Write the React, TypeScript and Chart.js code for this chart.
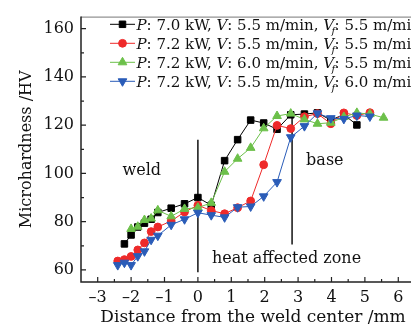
import React, { useEffect, useRef } from "react";
import { Chart, registerables } from "chart.js";
import { drawPoint } from "chart.js/helpers";

Chart.register(...registerables);

// ---- data ----
const blackX = [-2.2, -2.0, -1.8, -1.6, -1.4, -1.2, -0.8, -0.4, 0, 0.4, 0.8, 1.19, 1.58, 1.97, 2.37, 2.78, 3.19, 3.58, 3.98, 4.37, 4.76];
const blackY = [70.8, 74.5, 77.8, 79.4, 81.0, 83.8, 85.6, 87.4, 90.0, 86.8, 105.3, 114.0, 122.1, 120.9, 118.3, 124.3, 124.6, 125.1, 122.1, 124.4, 120.1];

const redX = [-2.4, -2.2, -2.0, -1.8, -1.6, -1.4, -1.2, -0.8, -0.4, 0, 0.4, 0.8, 1.19, 1.58, 1.97, 2.37, 2.78, 3.19, 3.58, 3.98, 4.37, 4.76, 5.15];
const redY = [63.7, 64.3, 65.6, 68.3, 71.2, 75.9, 77.8, 80.3, 84.0, 86.8, 84.6, 83.3, 85.8, 88.6, 103.6, 119.9, 118.6, 123.5, 124.8, 120.6, 125.1, 124.0, 125.2];

const greenX = [-2.0, -1.8, -1.6, -1.4, -1.2, -0.8, -0.4, 0, 0.4, 0.8, 1.19, 1.58, 1.97, 2.37, 2.78, 3.19, 3.58, 3.98, 4.37, 4.76, 5.15, 5.56];
const greenY = [77.0, 77.9, 80.7, 81.3, 84.7, 82.2, 85.3, 85.8, 87.8, 100.7, 106.1, 110.6, 118.7, 123.8, 124.8, 122.4, 120.6, 121.0, 123.4, 125.1, 124.6, 123.1];

const blueX = [-2.4, -2.2, -2.0, -1.8, -1.6, -1.4, -1.2, -0.8, -0.4, 0, 0.4, 0.8, 1.19, 1.58, 1.97, 2.37, 2.78, 3.19, 3.58, 3.98, 4.37, 4.76, 5.15];
const blueY = [62.0, 63.0, 62.0, 65.7, 67.7, 72.5, 74.2, 78.7, 81.0, 83.7, 82.7, 81.8, 86.0, 86.3, 90.5, 96.4, 115.0, 119.6, 124.9, 122.9, 122.6, 124.0, 123.6];

const legendP = ["7.0", "7.2", "7.2", "7.2"];
const legendV = ["5.5", "5.5", "6.0", "5.5"];
const legendVf = ["5.5", "5.5", "5.5", "6.0"];

const weldLineX = [0, 0];
const weldLineY = [114, 59];
const hazLineX = [2.82, 2.82];
const hazLineY = [124.5, 70.5];

const annotationText = ["weld", "base", "heat affected zone"];
const annotationX = [-2.255, 3.24, 0.42];
const annotationY = [99.4, 103.5, 62.7];

const xTicks = [-3, -2, -1, 0, 1, 2, 3, 4, 5, 6];
const yTicks = [60, 80, 100, 120, 140, 160];

const X_MIN = -3.5;
const X_MAX = 6.8;
const Y_MIN = 55;
const Y_MAX = 165;

// ---- styles ----
const FONT = '"DejaVu Serif", serif';
const COLORS = ["#000000", "#ee2a2a", "#6cc04a", "#2a5cb8"];
const STYLES = [
  { pointStyle: "rect", radius: 4.6, rotation: 0 },
  { pointStyle: "circle", radius: 3.9, rotation: 0 },
  { pointStyle: "triangle", radius: 5, rotation: 0 },
  { pointStyle: "triangle", radius: 5, rotation: 180 },
];

const toPts = (xs: number[], ys: number[]) => xs.map((x, i) => ({ x, y: ys[i] }));

const framePlugin = {
  id: "frameTicks",
  afterDraw(chart: any) {
    const { ctx, chartArea, scales } = chart;
    const { left, right, top, bottom } = chartArea;
    const xs = scales.x;
    const ys = scales.y;
    ctx.save();
    // top frame line
    ctx.strokeStyle = "#777";
    ctx.lineWidth = 1;
    ctx.beginPath();
    ctx.moveTo(left, top + 0.5);
    ctx.lineTo(right, top + 0.5);
    ctx.stroke();
    // axes
    ctx.strokeStyle = "#222";
    ctx.lineWidth = 1.5;
    ctx.beginPath();
    ctx.moveTo(left, top);
    ctx.lineTo(left, bottom);
    ctx.lineTo(right, bottom);
    ctx.stroke();
    // inward ticks
    ctx.lineWidth = 1.2;
    ctx.beginPath();
    xTicks.forEach((v) => {
      const p = xs.getPixelForValue(v);
      ctx.moveTo(p, bottom);
      ctx.lineTo(p, bottom - 5);
      const m = xs.getPixelForValue(v + 0.5);
      if (m < right) {
        ctx.moveTo(m, bottom);
        ctx.lineTo(m, bottom - 3);
      }
    });
    yTicks.forEach((v) => {
      const p = ys.getPixelForValue(v);
      ctx.moveTo(left, p);
      ctx.lineTo(left + 5, p);
      const m = ys.getPixelForValue(v + 10);
      if (m > top) {
        ctx.moveTo(left, m);
        ctx.lineTo(left + 3, m);
      }
    });
    ctx.stroke();
    ctx.restore();
  },
};

const textPlugin = {
  id: "annotText",
  afterDatasetsDraw(chart: any) {
    const { ctx, scales } = chart;
    ctx.save();
    ctx.fillStyle = "#111";
    ctx.font = `16px ${FONT}`;
    ctx.textAlign = "left";
    ctx.textBaseline = "alphabetic";
    annotationText.forEach((t, i) => {
      ctx.fillText(t, scales.x.getPixelForValue(annotationX[i]), scales.y.getPixelForValue(annotationY[i]));
    });
    ctx.restore();
  },
};

const legendPlugin = {
  id: "customLegend",
  afterDraw(chart: any) {
    const ctx = chart.ctx;
    ctx.save();
    const rowY0 = 24.3;
    const rowGap = 19;
    const lineX0 = 110;
    const lineX1 = 135;
    const textX = 136.5;
    const size = 15;
    for (let i = 0; i < legendP.length; i++) {
      const y = rowY0 + i * rowGap;
      ctx.strokeStyle = COLORS[i];
      ctx.fillStyle = COLORS[i];
      ctx.lineWidth = 1;
      ctx.beginPath();
      ctx.moveTo(lineX0, y);
      ctx.lineTo(lineX1, y);
      ctx.stroke();
      drawPoint(ctx, { ...STYLES[i], borderWidth: 1 } as any, (lineX0 + lineX1) / 2, y);
      ctx.fillStyle = "#111";
      ctx.textBaseline = "alphabetic";
      ctx.textAlign = "left";
      let x = textX;
      const base = y + 5.3;
      const seg = (t: string, italic = false) => {
        ctx.font = `${italic ? "italic " : ""}${size}px ${FONT}`;
        ctx.fillText(t, x, base);
        x += ctx.measureText(t).width;
      };
      seg("P", true);
      seg(`: ${legendP[i]} kW, `);
      seg("V", true);
      seg(`: ${legendV[i]} m/min, `);
      seg("V", true);
      ctx.font = `italic 10px ${FONT}`;
      ctx.fillText("f", x - 2.5, base + 4);
      x += 0.5;
      seg(`: ${legendVf[i]} m/min`);
    }
    ctx.restore();
  },
};

export default function App() {
  const ref = useRef<HTMLCanvasElement | null>(null);

  useEffect(() => {
    if (!ref.current) return;
    const series = [
      { label: "black", x: blackX, y: blackY, order: 4 },
      { label: "red", x: redX, y: redY, order: 3 },
      { label: "green", x: greenX, y: greenY, order: 2 },
      { label: "blue", x: blueX, y: blueY, order: 1 },
    ];
    const datasets: any[] = series.map((s, i) => ({
      label: s.label,
      data: toPts(s.x, s.y),
      order: s.order,
      borderColor: COLORS[i],
      backgroundColor: COLORS[i],
      borderWidth: 1,
      pointStyle: STYLES[i].pointStyle,
      pointRadius: STYLES[i].radius,
      pointRotation: STYLES[i].rotation,
      pointBorderWidth: 1,
      pointBorderColor: COLORS[i],
      pointBackgroundColor: COLORS[i],
      tension: 0,
      showLine: true,
    }));
    datasets.push({
      label: "weldLine",
      data: toPts(weldLineX, weldLineY),
      order: 5,
      borderColor: "#111",
      borderWidth: 1.5,
      pointRadius: 0,
      showLine: true,
    });
    datasets.push({
      label: "hazLine",
      data: toPts(hazLineX, hazLineY),
      order: 5,
      borderColor: "#111",
      borderWidth: 1.5,
      pointRadius: 0,
      showLine: true,
    });

    const chart = new Chart(ref.current, {
      type: "scatter",
      data: { datasets },
      options: {
        animation: false,
        responsive: true,
        maintainAspectRatio: false,
        layout: { padding: { top: 12, right: 0, left: 0, bottom: 0 } },
        plugins: { legend: { display: false }, tooltip: { enabled: false } },
        scales: {
          x: {
            type: "linear",
            min: X_MIN,
            max: X_MAX,
            grid: { display: false, drawTicks: false },
            border: { display: false },
            afterBuildTicks: (s: any) => {
              s.ticks = xTicks.map((v) => ({ value: v }));
            },
            afterFit: (s: any) => {
              s.height = 50;
            },
            ticks: {
              font: { family: FONT, size: 16 },
              color: "#111",
              padding: 6,
              maxRotation: 0,
              autoSkip: false,
              callback: (v: any) => (Number(v) < 0 ? "\u2013" + Math.abs(Number(v)) : String(v)),
            },
            title: {
              display: true,
              text: "Distance from the weld center /mm",
              font: { family: FONT, size: 17 },
              color: "#111",
              padding: { top: 0, bottom: 4 },
            },
          },
          y: {
            type: "linear",
            min: Y_MIN,
            max: Y_MAX,
            grid: { display: false, drawTicks: false },
            border: { display: false },
            afterBuildTicks: (s: any) => {
              s.ticks = yTicks.map((v) => ({ value: v }));
            },
            afterFit: (s: any) => {
              s.width = 81;
            },
            ticks: {
              font: { family: FONT, size: 16 },
              color: "#111",
              padding: 7,
              autoSkip: false,
            },
            title: {
              display: true,
              text: "Microhardness /HV",
              font: { family: FONT, size: 16 },
              color: "#111",
              padding: { top: 17, bottom: 0 },
            },
          },
        },
      },
      plugins: [framePlugin, textPlugin, legendPlugin],
    });
    return () => chart.destroy();
  }, []);

  return (
    <div
      style={{
        position: "fixed",
        left: 0,
        top: 0,
        width: 411,
        height: 332,
        overflow: "hidden",
        background: "#fff",
      }}
    >
      <div style={{ position: "relative", width: 431, height: 332 }}>
        <canvas ref={ref} />
      </div>
    </div>
  );
}
